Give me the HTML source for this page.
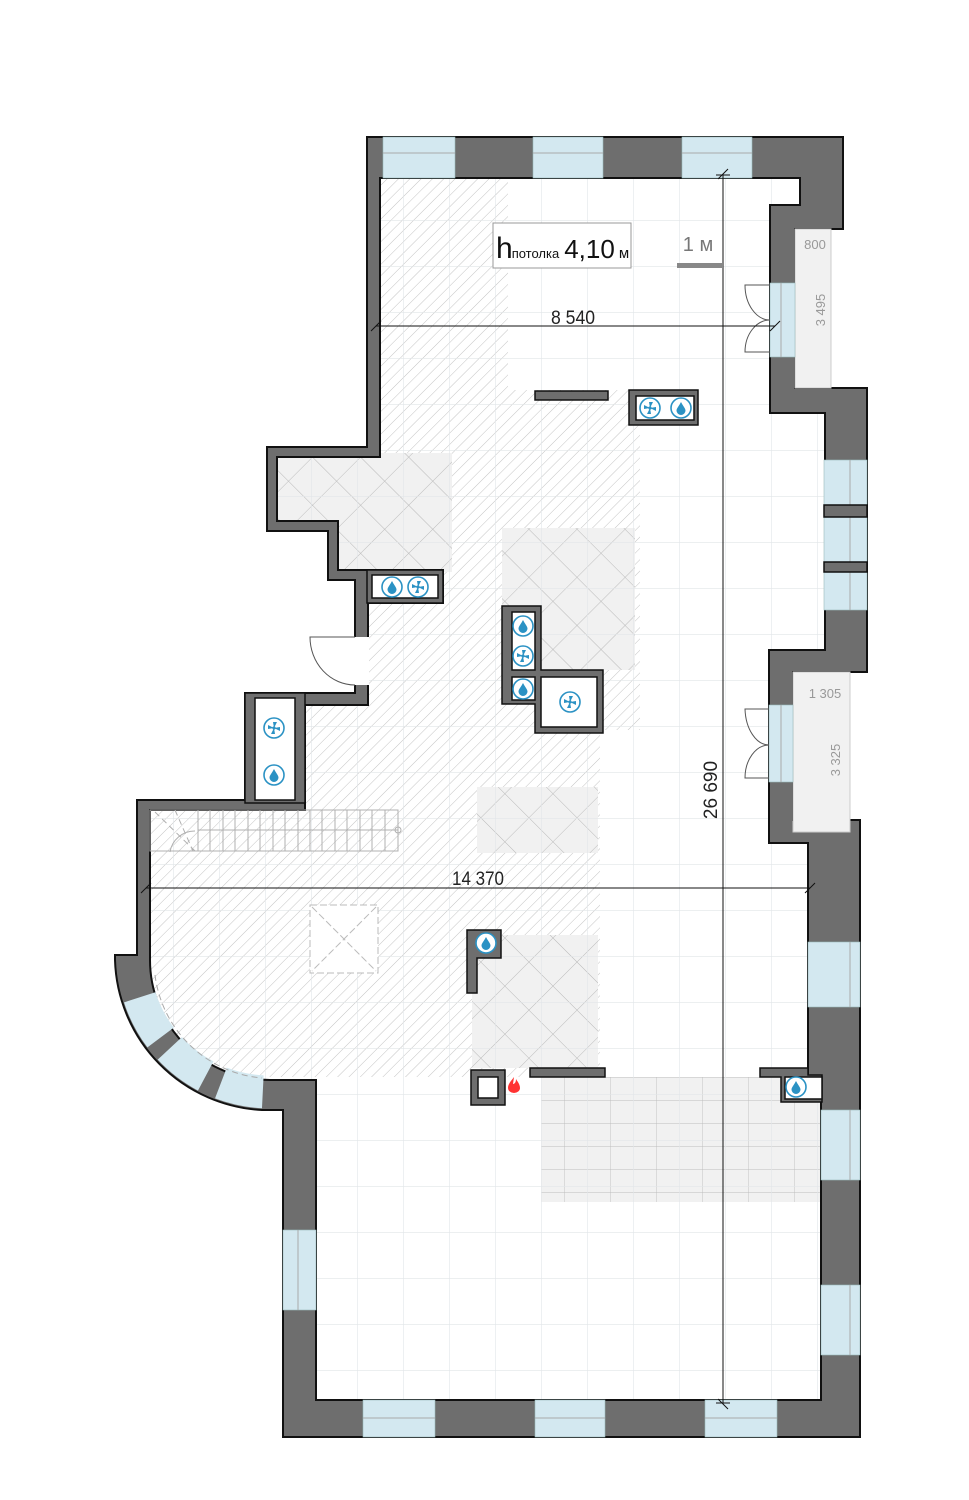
<!DOCTYPE html>
<html><head><meta charset="utf-8"><style>
html,body{margin:0;padding:0;background:#fff;width:969px;height:1500px;overflow:hidden}
svg{display:block}
text{font-family:"Liberation Sans",sans-serif}
</style></head><body>
<svg width="969" height="1500" viewBox="0 0 969 1500" xmlns="http://www.w3.org/2000/svg">
<defs>
<pattern id="grid" x="35" y="36" width="46" height="46" patternUnits="userSpaceOnUse">
<path d="M0 0H46M0 0V46" stroke="#e1e5e8" stroke-width="1.2" fill="none"/>
</pattern>
<pattern id="hatch" width="8" height="8" patternUnits="userSpaceOnUse" patternTransform="rotate(45)">
<line x1="0" y1="0" x2="0" y2="8" stroke="#c4c4c4" stroke-width="1"/>
</pattern>
<pattern id="diam" width="34" height="34" patternUnits="userSpaceOnUse" patternTransform="rotate(45)">
<rect width="34" height="34" fill="#f1f1f1"/>
<path d="M0 0H34M0 0V34" stroke="#b8b8b8" stroke-width="0.9" fill="none"/>
</pattern>
<pattern id="tile" x="541" y="1077" width="23" height="23" patternUnits="userSpaceOnUse">
<rect width="23" height="23" fill="#f1f1f1"/>
<path d="M0 0H23M0 0V23" stroke="#bdbdbd" stroke-width="0.9" fill="none"/>
</pattern>
<clipPath id="room">
<path d="M380 178H800V205H770V413H825V650H769V843H808V1100H821V1400H316V1080H270A120 120 0 0 1 150 960V810H305V705H368V603H443V570H338V521H277V457H380Z"/>
</clipPath>
<g id="drop"><circle r="10" fill="#fff" stroke="#2b92c4" stroke-width="1.6"/><path d="M0 -6C2 -2 4.5 0.5 4.5 2.5A4.5 4.5 0 0 1 -4.5 2.5C-4.5 0.5 -2 -2 0 -6Z" fill="#2b92c4"/></g>
<g id="fan"><circle r="10" fill="#fff" stroke="#2b92c4" stroke-width="1.6"/><g fill="#2b92c4"><path d="M0 0L-1 -6L3 -6Z"/><path d="M0 0L6 -1L6 3Z"/><path d="M0 0L1 6L-3 6Z"/><path d="M0 0L-6 1L-6 -3Z"/><circle r="1.6"/></g></g>
</defs>

<path d="M367 137H843V229H795V388H867V672H793V820H860V1437H283V1110H262A155 155 0 0 1 115 960V955H137V800H245V693H355V580H328V531H267V447H367Z" fill="#6e6e6e" stroke="#111" stroke-width="2"/>
<rect x="795" y="229" width="36" height="159" fill="#f1f1f1" stroke="#ccc" stroke-width="1"/>
<rect x="793" y="672" width="57" height="160" fill="#f1f1f1" stroke="#ccc" stroke-width="1"/>
<text x="815" y="249" font-size="13" fill="#999" text-anchor="middle">800</text>
<text x="825" y="310" font-size="13" fill="#999" text-anchor="middle" transform="rotate(-90 825 310)">3 495</text>
<text x="825" y="698" font-size="13" fill="#999" text-anchor="middle">1 305</text>
<text x="840" y="760" font-size="13" fill="#999" text-anchor="middle" transform="rotate(-90 840 760)">3 325</text>

<path d="M380 178H800V205H770V413H825V650H769V843H808V1100H821V1400H316V1080H270A120 120 0 0 1 150 960V810H305V705H368V603H443V570H338V521H277V457H380Z" fill="#fff"/>
<g clip-path="url(#room)">
<path d="M140 170H640V730H600V1077H140Z M508 178V390H640V178Z" fill="url(#hatch)" fill-rule="evenodd"/>
<rect x="277" y="453" width="175" height="119" fill="url(#diam)"/>
<rect x="502" y="528" width="133" height="142" fill="url(#diam)"/>
<rect x="477" y="787" width="121" height="66" fill="url(#diam)"/>
<rect x="472" y="935" width="126" height="133" fill="url(#diam)"/>
<rect x="541" y="1077" width="279" height="125" fill="url(#tile)"/>
<rect x="0" y="0" width="969" height="1500" fill="url(#grid)"/>
</g>
<path d="M380 178H800V205H770V413H825V650H769V843H808V1100H821V1400H316V1080H270A120 120 0 0 1 150 960V810H305V705H368V603H443V570H338V521H277V457H380Z" fill="none" stroke="#111" stroke-width="2"/>

<g fill="#d3e8f0" stroke="#9bb" stroke-width="0.6">
<rect x="383" y="137" width="72" height="41"/><rect x="533" y="137" width="70" height="41"/><rect x="682" y="137" width="70" height="41"/>
<rect x="770" y="283" width="25" height="74"/>
<rect x="824" y="460" width="43" height="45"/><rect x="824" y="517" width="43" height="45"/><rect x="824" y="572" width="43" height="38"/>
<rect x="769" y="705" width="24" height="77"/>
<rect x="808" y="942" width="52" height="65"/><rect x="821" y="1110" width="39" height="70"/><rect x="821" y="1285" width="39" height="70"/>
<rect x="363" y="1400" width="72" height="37"/><rect x="535" y="1400" width="70" height="37"/><rect x="705" y="1400" width="72" height="37"/>
<rect x="283" y="1230" width="33" height="80"/>
</g>
<g stroke="#aaa" stroke-width="1" fill="none">
<path d="M383 153H455M533 153H603M682 153H752M363 1418H435M535 1418H605M705 1418H777"/>
<path d="M781 283V357M781 705V782M850 460V610M850 942V1007M850 1110V1180M850 1285V1355M298 1230V1310"/>
</g>
<g fill="none" stroke="#d3e8f0" stroke-width="33">
<path d="M139.7 997.3A137 137 0 0 0 160.6 1037.5"/>
<path d="M169.8 1048.4A137 137 0 0 0 205.7 1076"/>
<path d="M220.9 1083A137 137 0 0 0 262.8 1091.8"/>
</g>
<path d="M155 975A118 118 0 0 0 262 1078" fill="none" stroke="#aaa" stroke-width="1" stroke-dasharray="6 4"/>
<rect x="824" y="505" width="43" height="12" fill="#6e6e6e" stroke="#111" stroke-width="1.5"/>
<rect x="824" y="562" width="43" height="10" fill="#6e6e6e" stroke="#111" stroke-width="1.5"/>

<rect x="354" y="637" width="15" height="48" fill="#fff"/>
<path d="M355 637H310A45 48 0 0 0 355 685" fill="none" stroke="#555" stroke-width="1"/>
<path d="M770 285H745A25 35 0 0 0 770 320M770 352H745A25 32 0 0 1 770 320" fill="none" stroke="#555" stroke-width="1"/>
<path d="M769 709H745A24 38 0 0 0 769 745M769 778H745A24 33 0 0 1 769 745" fill="none" stroke="#555" stroke-width="1"/>

<g stroke="#b0b0b0" stroke-width="1" fill="none">
<rect x="150" y="810" width="248" height="41"/>
<path d="M198 830H398"/>
<path d="M198 810V851M210 810V851M223 810V851M235 810V851M248 810V851M260 810V851M273 810V851M285 810V851M298 810V851M310 810V851M322 810V851M335 810V851M347 810V851M360 810V851M372 810V851M385 810V851"/>
<path d="M155 812L195 851M175 810L193 851" stroke-dasharray="6 4"/>
<path d="M195 831A25 25 0 0 0 170 852"/>
<circle cx="398" cy="830" r="3"/>
</g>
<g stroke="#bbb" stroke-width="1" fill="#fff" stroke-dasharray="7 3">
<rect x="310" y="905" width="68" height="68"/>
<path d="M312 907L376 971M376 907L312 971" fill="none"/>
</g>

<g fill="#6e6e6e" stroke="#111" stroke-width="1.5">
<rect x="535" y="391" width="73" height="9"/>
<rect x="629" y="390" width="69" height="35"/>
<rect x="367" y="570" width="76" height="33"/>
<path d="M502 606H541V670H603V733H535V704H502Z"/>
<rect x="245" y="693" width="60" height="110"/>
<path d="M467 930H501V958H477V993H467Z"/>
<rect x="530" y="1068" width="75" height="9"/>
<rect x="471" y="1070" width="34" height="35"/>
<path d="M760 1068H808V1075H822V1102H781V1077H760Z"/>
</g>
<g fill="#fff" stroke="#111" stroke-width="1.5">
<rect x="636" y="396" width="58" height="24"/>
<rect x="372" y="575" width="66" height="23"/>
<rect x="512" y="612" width="23" height="58"/>
<rect x="512" y="677" width="23" height="23"/>
<rect x="541" y="677" width="56" height="50"/>
<rect x="255" y="698" width="40" height="102"/>
<rect x="478" y="1077" width="20" height="21"/>
<rect x="785" y="1077" width="37" height="22"/>
</g>
<use href="#fan" x="650" y="408"/><use href="#drop" x="681" y="408"/>
<use href="#drop" x="392" y="587"/><use href="#fan" x="418" y="587"/>
<use href="#drop" x="523" y="626"/><use href="#fan" x="523" y="656"/><use href="#drop" x="523" y="689"/>
<use href="#fan" x="570" y="702"/>
<use href="#fan" x="274" y="728"/><use href="#drop" x="274" y="775"/>
<use href="#drop" x="486" y="943"/>
<use href="#drop" x="796" y="1087"/>
<path d="M514 1077C511 1081 508 1084 508 1088A6 5 0 0 0 520 1088C520 1084 517 1081 516 1079C516 1083 514 1084 513 1084Z" fill="#f33"/>

<g stroke="#111" stroke-width="1" fill="none">
<path d="M376 326H775M371 331L381 321M770 331L780 321"/>
<path d="M723 174V1404M718 179L728 169M718 1399L728 1409M716 175H730M716 1403H730"/>
<path d="M146 888H810M141 893L151 883M805 893L815 883"/>
</g>
<text x="573" y="324" font-size="19" fill="#222" text-anchor="middle" textLength="44" lengthAdjust="spacingAndGlyphs">8 540</text>
<text x="478" y="885" font-size="19" fill="#222" text-anchor="middle" textLength="52" lengthAdjust="spacingAndGlyphs">14 370</text>
<text x="717" y="790" font-size="19" fill="#222" text-anchor="middle" transform="rotate(-90 717 790)">26 690</text>

<rect x="493" y="223" width="138" height="45" fill="#fff" stroke="#999" stroke-width="1"/>
<text x="496" y="258" fill="#111"><tspan font-size="30">h</tspan><tspan font-size="13" dx="-1">потолка</tspan><tspan font-size="26" dx="5">4,10</tspan><tspan font-size="15" dx="4">м</tspan></text>
<text x="698" y="251" font-size="20" fill="#777" text-anchor="middle">1 м</text>
<rect x="677" y="263" width="46" height="5" fill="#888"/>
</svg>
</body></html>
